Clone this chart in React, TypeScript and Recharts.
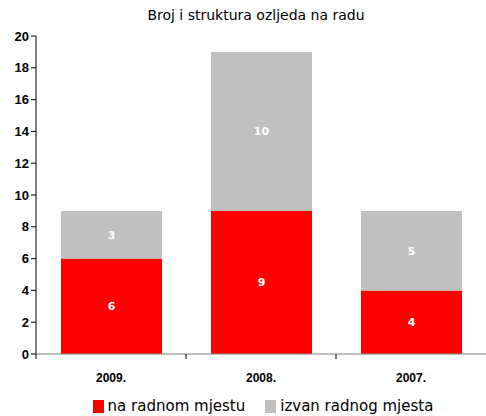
import React from 'react';
import { BarChart, Bar, XAxis, YAxis, Legend, LabelList } from 'recharts';

const categories = ['2009.', '2008.', '2007.'];
const naRadnomMjestu = [6, 9, 4];
const izvanRadnogMjesta = [3, 10, 5];
const yTicks = [0, 2, 4, 6, 8, 10, 12, 14, 16, 18, 20];
const title = 'Broj i struktura ozljeda na radu';
const seriesNames = ['na radnom mjestu', 'izvan radnog mjesta'];

const data = categories.map((c, i) => ({
  name: c,
  a: naRadnomMjestu[i],
  b: izvanRadnogMjesta[i],
}));

const CHART_W = 486;
const PLOT_LEFT = 36;
const BAND = (CHART_W - PLOT_LEFT) / categories.length;

const XTick = (props: any) => {
  const { x, y, payload } = props;
  return (
    <g>
      <line x1={x - BAND / 2} x2={x - BAND / 2} y1={y - 8} y2={y - 3} stroke="#000" />
      <text x={x} y={y + 20} textAnchor="middle" fontFamily="Liberation Sans, Arial, sans-serif" fontWeight="bold" fontSize={12} fill="#000">
        {payload.value}
      </text>
    </g>
  );
};

const LegendContent = () => (
  <div style={{ display: 'flex', justifyContent: 'center', fontFamily: 'DejaVu Sans, sans-serif', fontSize: 15, color: '#000', lineHeight: '18px', paddingLeft: 40 }}>
    {seriesNames.map((n, i) => (
      <div key={n} style={{ display: 'flex', alignItems: 'center', marginRight: i === 0 ? 20 : 0 }}>
        <div style={{ width: 11, height: 13, background: i === 0 ? '#FF0000' : '#C0C0C0', marginRight: 4 }} />
        <span>{n}</span>
      </div>
    ))}
  </div>
);

export default function App() {
  return (
    <div style={{ position: 'absolute', left: 0, top: 0, width: 486, height: 416, background: '#fff', overflow: 'hidden' }}>
      <div style={{ position: 'absolute', left: 0, top: 7, width: 512, textAlign: 'center', fontFamily: 'DejaVu Sans, sans-serif', fontSize: 14, color: '#000' }}>
        {title}
      </div>
      <BarChart
        width={CHART_W}
        height={416}
        data={data}
        margin={{ top: 36, right: 0, left: 0, bottom: 0 }}
        barSize={101}
      >
        <XAxis
          dataKey="name"
          height={62}
          stroke="#808080"
          tickLine={false}
          tick={<XTick />}
          interval={0}
        />
        <YAxis
          width={36}
          domain={[0, 20]}
          ticks={yTicks}
          interval={0}
          stroke="#000"
          tickSize={5}
          tick={{ fontFamily: 'Liberation Sans, Arial, sans-serif', fontWeight: 'bold', fontSize: 13, fill: '#000' }}
        />
        <Legend
          verticalAlign="middle"
          align="center"
          layout="horizontal"
          content={<LegendContent />}
          wrapperStyle={{ top: 397, left: 0, width: 486 }}
        />
        <Bar dataKey="a" stackId="s" fill="#FF0000" isAnimationActive={false}>
          <LabelList dataKey="a" position="center" fill="#fff" fontWeight="bold" fontSize={11} fontFamily="DejaVu Sans, sans-serif" />
        </Bar>
        <Bar dataKey="b" stackId="s" fill="#C0C0C0" isAnimationActive={false}>
          <LabelList dataKey="b" position="center" fill="#fff" fontWeight="bold" fontSize={11} fontFamily="DejaVu Sans, sans-serif" />
        </Bar>
      </BarChart>
    </div>
  );
}
